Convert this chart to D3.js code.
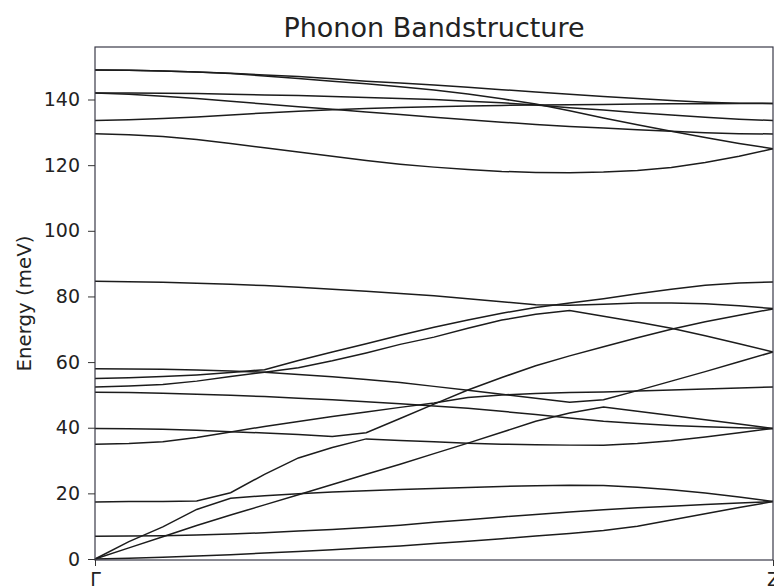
<!DOCTYPE html>
<html>
<head>
  <title>Phonon Bandstructure</title>
  <script type="text/javascript" src="https://d3js.org/d3.v7.min.js"></script>
  <style>
    body { margin: 0; background: #fff; }
    text { font-family: "DejaVu Sans", sans-serif; fill: #222; }
  </style>
</head>
<body>
  <div id="container"></div>
  <script type="text/javascript">
    // q-path labels and energy ticks
    var qLabels = ['\u0393', 'Z'];
    var energyTicks = [0, 20, 40, 60, 80, 100, 120, 140];

    // energies (meV) at 21 evenly spaced q-points from Gamma to Z, one array per band
    var band01 = [0, 0.2, 0.5, 0.9, 1.3, 1.8, 2.3, 2.8, 3.4, 4.0, 4.7, 5.4, 6.2, 7.0, 7.8, 8.7, 10.0, 11.9, 13.8, 15.7, 17.5];
    var band02 = [0, 3.4, 6.8, 10.2, 13.4, 16.5, 19.6, 22.7, 25.8, 28.9, 32.1, 35.3, 38.6, 42.0, 44.5, 46.3, 45.0, 43.7, 42.4, 41.1, 39.8];
    var band03 = [0, 5.3, 9.8, 15.1, 18.5, 19.3, 19.9, 20.4, 20.8, 21.2, 21.5, 21.8, 22.1, 22.3, 22.5, 22.4, 21.9, 21.1, 20.1, 18.9, 17.5];
    var band04 = [6.9, 7.0, 7.1, 7.3, 7.6, 8.0, 8.5, 9.0, 9.6, 10.3, 11.2, 12.0, 12.8, 13.6, 14.3, 15.0, 15.6, 16.1, 16.6, 17.1, 17.5];
    var band05 = [17.4, 17.5, 17.5, 17.7, 20.2, 25.8, 30.8, 34.0, 36.6, 36.1, 35.7, 35.3, 35.0, 34.8, 34.7, 34.7, 35.2, 36.0, 37.2, 38.5, 39.8];
    var band06 = [35.0, 35.2, 35.7, 37.0, 38.7, 40.4, 41.9, 43.4, 44.8, 46.2, 47.5, 49.2, 50.0, 50.4, 50.7, 50.9, 51.2, 51.5, 51.8, 52.1, 52.4];
    var band07 = [39.8, 39.7, 39.5, 39.2, 38.8, 38.4, 37.9, 37.3, 38.5, 42.8, 47.2, 51.5, 55.3, 58.9, 61.9, 64.7, 67.4, 70.0, 72.3, 74.3, 76.2];
    var band08 = [50.8, 50.7, 50.5, 50.2, 49.9, 49.5, 49.0, 48.5, 47.9, 47.3, 46.6, 45.9, 45.0, 44.0, 43.0, 42.0, 41.3, 40.7, 40.3, 40.0, 39.8];
    var band09 = [52.4, 52.7, 53.2, 54.2, 55.6, 56.9, 58.3, 60.4, 62.8, 65.4, 67.6, 70.3, 72.8, 74.6, 75.7, 74.0, 72.2, 70.3, 68.0, 65.6, 63.1];
    var band10 = [55.0, 55.2, 55.6, 56.1, 56.8, 57.7, 60.5, 63.1, 65.6, 68.2, 70.6, 72.8, 74.9, 76.6, 78.0, 79.3, 80.8, 82.2, 83.4, 84.1, 84.4];
    var band11 = [58.0, 57.9, 57.8, 57.6, 57.3, 56.9, 56.2, 55.5, 54.7, 53.8, 52.6, 51.4, 50.2, 49.0, 47.8, 48.5, 51.3, 54.2, 57.1, 60.1, 63.1];
    var band12 = [84.6, 84.5, 84.3, 84.0, 83.7, 83.3, 82.8, 82.2, 81.6, 80.9, 80.2, 79.3, 78.4, 77.5, 77.3, 77.6, 78.0, 78.0, 77.8, 77.2, 76.3];
    var band13 = [129.6, 129.3, 128.7, 127.8, 126.6, 125.3, 124.0, 122.7, 121.4, 120.3, 119.4, 118.7, 118.1, 117.8, 117.7, 117.9, 118.4, 119.3, 120.8, 122.7, 125.0];
    var band14 = [133.6, 133.8, 134.2, 134.7, 135.3, 135.9, 136.4, 136.9, 137.3, 137.6, 137.8, 138.0, 138.2, 138.3, 138.4, 138.5, 138.6, 138.7, 138.7, 138.8, 138.8];
    var band15 = [142.0, 141.6, 141.0, 140.3, 139.5, 138.6, 137.8, 137.0, 136.2, 135.4, 134.6, 133.8, 133.1, 132.4, 131.8, 131.3, 130.8, 130.3, 129.9, 129.6, 129.5];
    var band16 = [142.0, 142.0, 141.9, 141.8, 141.6, 141.4, 141.2, 140.9, 140.6, 140.3, 140.0, 139.5, 139.0, 138.3, 137.5, 136.8, 136.0, 135.3, 134.6, 134.0, 133.6];
    var band17 = [149.0, 148.9, 148.7, 148.4, 147.9, 147.2, 146.4, 145.6, 144.8, 143.9, 142.9, 141.7, 140.2, 138.6, 136.6, 134.4, 132.3, 130.3, 128.4, 126.6, 125.0];
    var band18 = [149.0, 148.9, 148.7, 148.4, 148.0, 147.5, 147.0, 146.3, 145.6, 145.0, 144.4, 143.7, 143.0, 142.3, 141.6, 140.9, 140.3, 139.7, 139.2, 138.9, 138.8];

    var bands = [band01, band02, band03, band04, band05, band06, band07, band08, band09,
                 band10, band11, band12, band13, band14, band15, band16, band17, band18];

    var width = 774, height = 586;
    var margin = {top: 47, right: 1, bottom: 26, left: 95};

    var svg = d3.select('#container').append('svg')
      .attr('width', width)
      .attr('height', height);

    var x = d3.scaleLinear()
      .domain([0, band01.length - 1])
      .range([margin.left, width - margin.right]);

    var y = d3.scaleLinear()
      .domain([-0.3, 156])
      .range([height - margin.bottom, margin.top]);

    var line = d3.line()
      .x((d, i) => x(i))
      .y(d => y(d));

    svg.append('g')
      .selectAll('path')
      .data(bands)
      .enter()
      .append('path')
        .attr('d', line)
        .attr('fill', 'none')
        .attr('stroke', '#1c1c1c')
        .attr('stroke-width', 1.5);

    // frame
    svg.append('rect')
      .attr('x', x.range()[0])
      .attr('y', y.range()[1])
      .attr('width', x.range()[1] - x.range()[0])
      .attr('height', y.range()[0] - y.range()[1])
      .attr('fill', 'none')
      .attr('stroke', '#3a3a48')
      .attr('stroke-width', 1.2);

    var yAxis = svg.append('g')
      .attr('transform', `translate(${margin.left},0)`)
      .call(d3.axisLeft(y).tickValues(energyTicks).tickSize(7).tickPadding(8));
    yAxis.select('.domain').remove();
    yAxis.selectAll('line').attr('stroke', '#333');
    yAxis.selectAll('text')
      .style('font-size', '19px')
      .attr('fill', '#222');

    var xAxis = svg.append('g')
      .attr('transform', `translate(0,${y.range()[0]})`)
      .call(d3.axisBottom(x).tickValues([0, band01.length - 1])
        .tickFormat((d, i) => qLabels[i]).tickSize(6).tickPadding(7));
    xAxis.select('.domain').remove();
    xAxis.selectAll('line').attr('stroke', '#333');
    xAxis.selectAll('text')
      .style('font-size', '19px')
      .attr('fill', '#222');

    svg.append('text')
      .attr('x', (x.range()[0] + x.range()[1]) / 2)
      .attr('y', 37)
      .attr('text-anchor', 'middle')
      .style('font-size', '27px')
      .text('Phonon Bandstructure');

    svg.append('text')
      .attr('transform', `translate(31,${(y.range()[0] + y.range()[1]) / 2})rotate(-90)`)
      .attr('text-anchor', 'middle')
      .style('font-size', '19.8px')
      .text('Energy (meV)');
  </script>
</body>
</html>
